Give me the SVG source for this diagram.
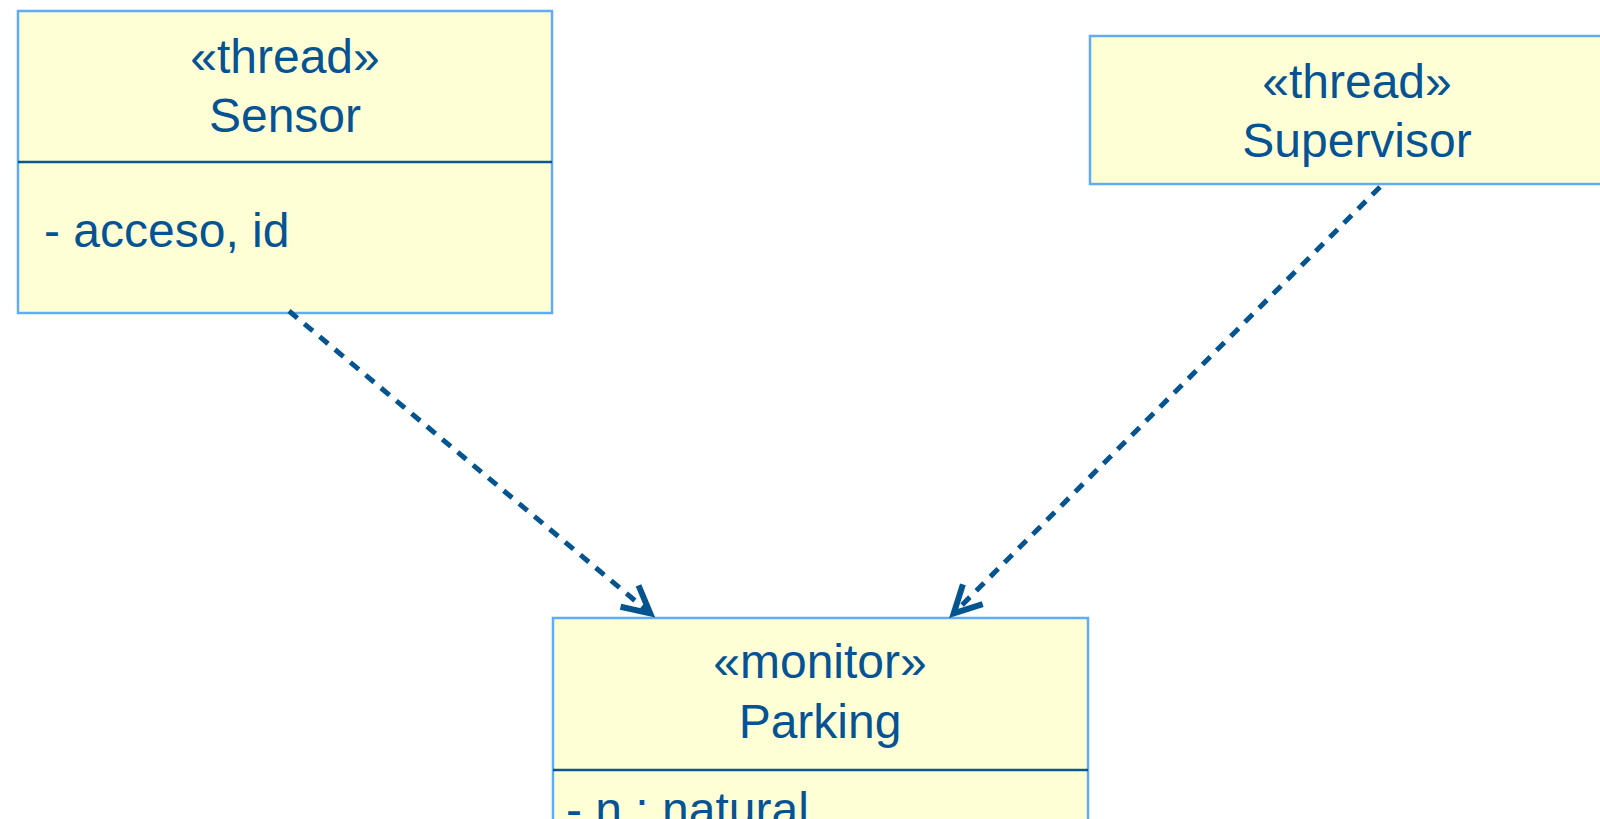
<svg xmlns="http://www.w3.org/2000/svg" width="1600" height="819" viewBox="0 0 1600 819">
<style>
.box{fill:#ffffd6;stroke:#62acf5;stroke-width:2.5}
.div{stroke:#0b5593;stroke-width:2.5}
.t{font-family:"Liberation Sans",Arial,sans-serif;font-size:48px;fill:#065394}
.c{text-anchor:middle}
.dep{fill:none;stroke:#03548f;stroke-width:5;stroke-dasharray:11 9}
</style>
<defs>
<marker id="open" markerUnits="userSpaceOnUse" markerWidth="50" markerHeight="50" viewBox="-40 -25 50 50" refX="0" refY="0" orient="auto">
<path d="M-28,-14 L-1,0 L-28,14" fill="none" stroke="#03548f" stroke-width="6" stroke-linejoin="miter"/>
</marker>
</defs>
<rect width="1600" height="819" fill="#ffffff"/>
<g id="sensor">
<rect class="box" x="18" y="11" width="534" height="302"/>
<line class="div" x1="18" y1="162" x2="552" y2="162"/>
<text class="t c" x="285" y="73">«thread»</text>
<text class="t c" x="285" y="132">Sensor</text>
<text class="t" x="44" y="247">- acceso, id</text>
</g>
<g id="supervisor">
<rect class="box" x="1090" y="36" width="530" height="148"/>
<text class="t c" x="1357" y="98">«thread»</text>
<text class="t c" x="1357" y="157">Supervisor</text>
</g>
<g id="parking">
<rect class="box" x="553" y="618" width="535" height="230"/>
<line class="div" x1="553" y1="770" x2="1088" y2="770"/>
<text class="t c" x="820" y="678">«monitor»</text>
<text class="t c" x="820" y="738">Parking</text>
<text class="t" x="566" y="826">- n : natural</text>
</g>
<g id="connectors">
<line class="dep" x1="289" y1="311" x2="651" y2="614" marker-end="url(#open)"/>
<line class="dep" x1="1380" y1="187" x2="953" y2="614" marker-end="url(#open)"/>
</g>
</svg>
